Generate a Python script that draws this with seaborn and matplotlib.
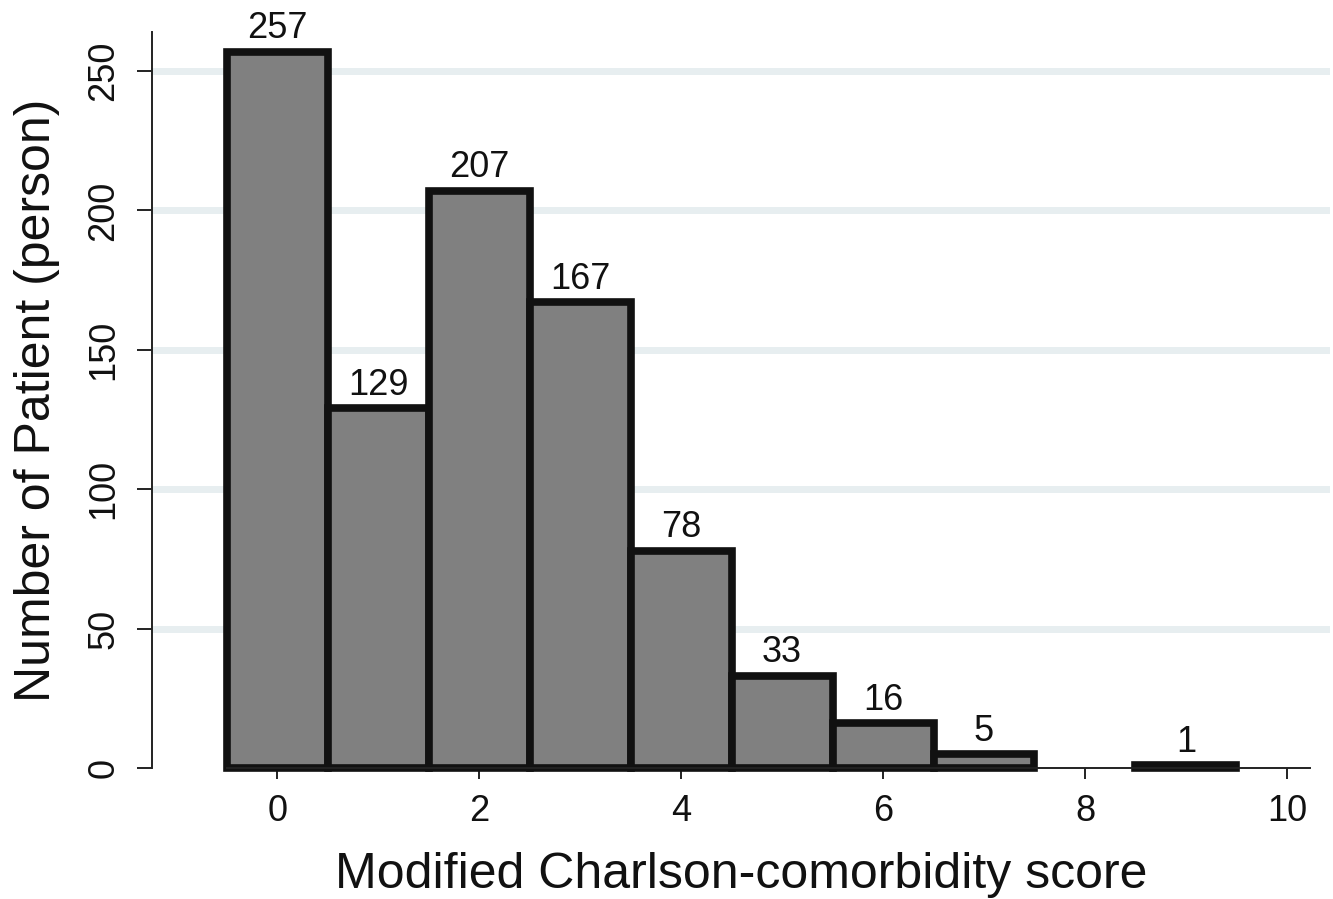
import matplotlib
matplotlib.use("Agg")
import matplotlib.pyplot as plt
import seaborn as sns
import pandas as pd

# Modified Charlson-comorbidity score vs. number of patients (no patient scored 8)
scores = [0, 1, 2, 3, 4, 5, 6, 7, 9]
counts = [257, 129, 207, 167, 78, 33, 16, 5, 1]
yticks = [0, 50, 100, 150, 200, 250]
xticks = [0, 2, 4, 6, 8, 10]

df = pd.DataFrame({"score": scores, "patients": counts})

sns.set_style("white")
plt.rcParams['font.family'] = ['Liberation Sans', 'DejaVu Sans']

fig = plt.figure(figsize=(13.33, 8.99), dpi=100)
ax = fig.add_axes([0.114, 0.1457, 0.884, 0.8187])

# light horizontal grid behind the bars
for v in yticks[1:]:
    ax.axhline(v, color='#e7eef0', linewidth=5, zorder=0)

sns.barplot(data=df, x="score", y="patients", native_scale=True, width=1,
            color='#808080', saturation=1, edgecolor='#111111', linewidth=5.5,
            errorbar=None, ax=ax, zorder=2)
for p in ax.patches:
    p.set_clip_on(False)

ax.bar_label(ax.containers[0], padding=4, fontsize=26, color='#111111')

ax.set_xlim(-1.24, 10.43)
ax.set_ylim(0, 264)
ax.set_xticks(xticks)
ax.set_yticks(yticks)

for s in ['top', 'right']:
    ax.spines[s].set_visible(False)
ax.spines['left'].set_bounds(0, 264)
ax.spines['bottom'].set_bounds(-0.5, 10.23)
for s in ['left', 'bottom']:
    ax.spines[s].set_color('#222222')
    ax.spines[s].set_linewidth(1.4)

ax.tick_params(axis='x', length=8, width=1.4, color='#222222', pad=11,
               labelsize=26, labelcolor='#111111', direction='out', bottom=True)
ax.tick_params(axis='y', length=11, width=1.4, color='#222222', pad=11,
               labelsize=26, labelcolor='#111111', direction='out', left=True)
for lab in ax.get_yticklabels():
    lab.set_rotation(90)
    lab.set_va('center')

ax.set_xlabel("Modified Charlson-comorbidity score", fontsize=36, color='#111111', labelpad=16)
ax.set_ylabel("Number of Patient (person)", fontsize=36, color='#111111')
ax.yaxis.set_label_coords(-0.078, 0.5)
ax.grid(False)

fig.savefig("out.png", dpi=100)
